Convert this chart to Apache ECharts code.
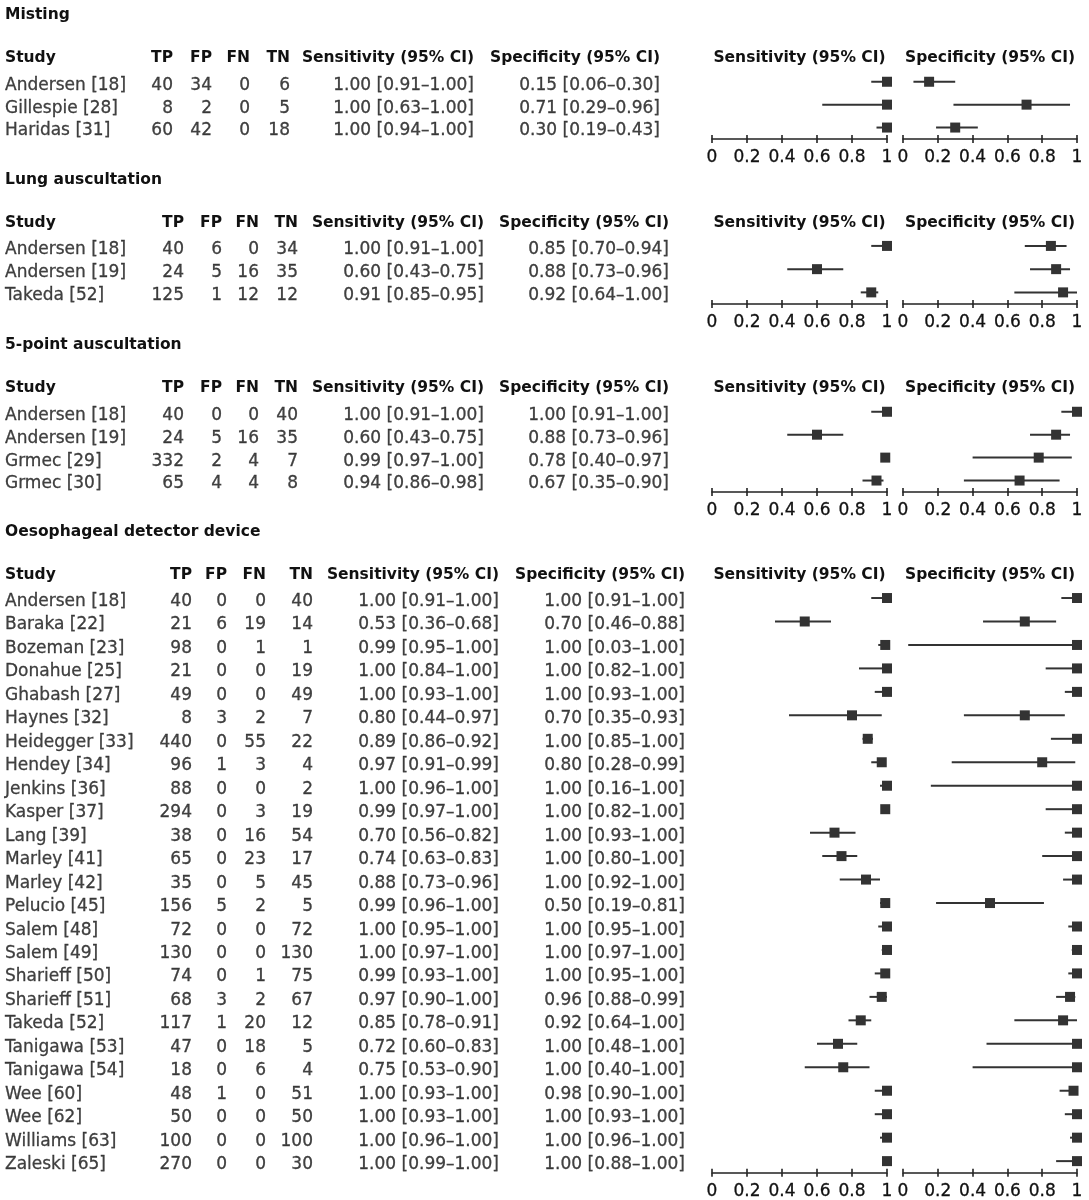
<!DOCTYPE html>
<html>
<head>
<meta charset="utf-8">
<title>Forest plot</title>
<script src="https://cdn.jsdelivr.net/npm/echarts@6/dist/echarts.min.js"></script>
<style>
  html, body { margin: 0; padding: 0; background: #fff; }
  #chart { width: 1089px; height: 1200px; }
</style>
</head>
<body>
<div id="chart"></div>
<script>
(function () {

  var sectionTitles = ['Misting', 'Lung auscultation', '5-point auscultation', 'Oesophageal detector device'];
  var colHeads = ['Study', 'TP', 'FP', 'FN', 'TN', 'Sensitivity (95% CI)', 'Specificity (95% CI)'];
  var axisTicks = [0, 0.2, 0.4, 0.6, 0.8, 1];

  // Misting
  var mistingStudies = ['Andersen [18]', 'Gillespie [28]', 'Haridas [31]'];
  var mistingCounts = [[40, 34, 0, 6], [8, 2, 0, 5], [60, 42, 0, 18]];   // TP FP FN TN
  var mistingSens = [[1.00, 0.91, 1.00], [1.00, 0.63, 1.00], [1.00, 0.94, 1.00]];   // est lo hi
  var mistingSpec = [[0.15, 0.06, 0.30], [0.71, 0.29, 0.96], [0.30, 0.19, 0.43]];

  // Lung auscultation
  var lungStudies = ['Andersen [18]', 'Andersen [19]', 'Takeda [52]'];
  var lungCounts = [[40, 6, 0, 34], [24, 5, 16, 35], [125, 1, 12, 12]];
  var lungSens = [[1.00, 0.91, 1.00], [0.60, 0.43, 0.75], [0.91, 0.85, 0.95]];
  var lungSpec = [[0.85, 0.70, 0.94], [0.88, 0.73, 0.96], [0.92, 0.64, 1.00]];

  // 5-point auscultation
  var fiveStudies = ['Andersen [18]', 'Andersen [19]', 'Grmec [29]', 'Grmec [30]'];
  var fiveCounts = [[40, 0, 0, 40], [24, 5, 16, 35], [332, 2, 4, 7], [65, 4, 4, 8]];
  var fiveSens = [[1.00, 0.91, 1.00], [0.60, 0.43, 0.75], [0.99, 0.97, 1.00], [0.94, 0.86, 0.98]];
  var fiveSpec = [[1.00, 0.91, 1.00], [0.88, 0.73, 0.96], [0.78, 0.40, 0.97], [0.67, 0.35, 0.90]];

  // Oesophageal detector device
  var oddStudies = ['Andersen [18]', 'Baraka [22]', 'Bozeman [23]', 'Donahue [25]', 'Ghabash [27]',
    'Haynes [32]', 'Heidegger [33]', 'Hendey [34]', 'Jenkins [36]', 'Kasper [37]', 'Lang [39]',
    'Marley [41]', 'Marley [42]', 'Pelucio [45]', 'Salem [48]', 'Salem [49]', 'Sharieff [50]',
    'Sharieff [51]', 'Takeda [52]', 'Tanigawa [53]', 'Tanigawa [54]', 'Wee [60]', 'Wee [62]',
    'Williams [63]', 'Zaleski [65]'];
  var oddCounts = [[40, 0, 0, 40], [21, 6, 19, 14], [98, 0, 1, 1], [21, 0, 0, 19], [49, 0, 0, 49],
    [8, 3, 2, 7], [440, 0, 55, 22], [96, 1, 3, 4], [88, 0, 0, 2], [294, 0, 3, 19], [38, 0, 16, 54],
    [65, 0, 23, 17], [35, 0, 5, 45], [156, 5, 2, 5], [72, 0, 0, 72], [130, 0, 0, 130], [74, 0, 1, 75],
    [68, 3, 2, 67], [117, 1, 20, 12], [47, 0, 18, 5], [18, 0, 6, 4], [48, 1, 0, 51], [50, 0, 0, 50],
    [100, 0, 0, 100], [270, 0, 0, 30]];
  var oddSens = [[1.00, 0.91, 1.00], [0.53, 0.36, 0.68], [0.99, 0.95, 1.00], [1.00, 0.84, 1.00],
    [1.00, 0.93, 1.00], [0.80, 0.44, 0.97], [0.89, 0.86, 0.92], [0.97, 0.91, 0.99], [1.00, 0.96, 1.00],
    [0.99, 0.97, 1.00], [0.70, 0.56, 0.82], [0.74, 0.63, 0.83], [0.88, 0.73, 0.96], [0.99, 0.96, 1.00],
    [1.00, 0.95, 1.00], [1.00, 0.97, 1.00], [0.99, 0.93, 1.00], [0.97, 0.90, 1.00], [0.85, 0.78, 0.91],
    [0.72, 0.60, 0.83], [0.75, 0.53, 0.90], [1.00, 0.93, 1.00], [1.00, 0.93, 1.00], [1.00, 0.96, 1.00],
    [1.00, 0.99, 1.00]];
  var oddSpec = [[1.00, 0.91, 1.00], [0.70, 0.46, 0.88], [1.00, 0.03, 1.00], [1.00, 0.82, 1.00],
    [1.00, 0.93, 1.00], [0.70, 0.35, 0.93], [1.00, 0.85, 1.00], [0.80, 0.28, 0.99], [1.00, 0.16, 1.00],
    [1.00, 0.82, 1.00], [1.00, 0.93, 1.00], [1.00, 0.80, 1.00], [1.00, 0.92, 1.00], [0.50, 0.19, 0.81],
    [1.00, 0.95, 1.00], [1.00, 0.97, 1.00], [1.00, 0.95, 1.00], [0.96, 0.88, 0.99], [0.92, 0.64, 1.00],
    [1.00, 0.48, 1.00], [1.00, 0.40, 1.00], [0.98, 0.90, 1.00], [1.00, 0.93, 1.00], [1.00, 0.96, 1.00],
    [1.00, 0.88, 1.00]];

  var sections = [
    { studies: mistingStudies, counts: mistingCounts, sens: mistingSens, spec: mistingSpec },
    { studies: lungStudies, counts: lungCounts, sens: lungSens, spec: lungSpec },
    { studies: fiveStudies, counts: fiveCounts, sens: fiveSens, spec: fiveSpec },
    { studies: oddStudies, counts: oddCounts, sens: oddSens, spec: oddSpec }
  ];

  // page layout (px): header row, first plot row, axis line, right edges of table columns
  var layout = [
    { header: 58, first: 82, axis: 139, cols: [173, 212, 250, 290, 474, 660] },
    { header: 223, first: 246, axis: 304, cols: [184, 222, 259, 298, 484, 669] },
    { header: 388, first: 412, axis: 492, cols: [184, 222, 259, 298, 484, 669] },
    { header: 575, first: 598, axis: 1173, cols: [192, 227, 266, 313, 499, 685] }
  ];
  var plotLeft = [712, 903];
  var plotWidth = [175, 174];
  var halfRow = 11.7;
  var textShift = 3.5;
  var font = '"DejaVu Sans", sans-serif';
  var ink = '#111111';
  var markInk = '#333333';
  var bodySize = 17;

  function ci(v) {
    return v[0].toFixed(2) + ' [' + v[1].toFixed(2) + '\u2013' + v[2].toFixed(2) + ']';
  }

  function forestItem(params, api) {
    var p = api.coord([api.value(0), api.value(3)]);
    var lo = api.coord([api.value(1), api.value(3)]);
    var hi = api.coord([api.value(2), api.value(3)]);
    return {
      type: 'group',
      children: [
        { type: 'line', shape: { x1: lo[0], y1: lo[1], x2: hi[0], y2: hi[1] },
          style: { stroke: markInk, lineWidth: 2 } },
        { type: 'rect', shape: { x: p[0] - 5, y: p[1] - 5, width: 10, height: 10 },
          style: { fill: markInk } }
      ]
    };
  }

  var grid = [], xAxis = [], yAxis = [], series = [], graphic = [];

  sections.forEach(function (sec, s) {
    var L = layout[s];
    var top = L.first - halfRow;
    var h = L.axis - top;
    var rows = sec.studies.map(function (n, i) { return i; });

    // section title + column headers
    graphic.push({
      type: 'text', x: 5, y: L.header - 43,
      style: { text: sectionTitles[s], font: 'bold 15.5px ' + font, fill: ink,
        textAlign: 'left', textVerticalAlign: 'middle', align: 'left', verticalAlign: 'middle' }
    });
    colHeads.forEach(function (t, c) {
      var x = c === 0 ? 5 : L.cols[c - 1];
      var a = c === 0 ? 'left' : 'right';
      graphic.push({
        type: 'text', x: x, y: L.header,
        style: { text: t, font: 'bold 15.5px ' + font, fill: ink,
          textAlign: a, textVerticalAlign: 'middle', align: a, verticalAlign: 'middle' }
      });
    });
    [5, 6].forEach(function (c, k) {
      graphic.push({
        type: 'text', x: plotLeft[k] + plotWidth[k] / 2, y: L.header,
        style: { text: colHeads[c], font: 'bold 15.5px ' + font, fill: ink,
          textAlign: 'center', textVerticalAlign: 'middle', align: 'center', verticalAlign: 'middle' }
      });
    });

    // table grid: x in page pixels, y = study rows
    var tg = grid.length;
    grid.push({ left: 0, width: 1089, top: top + textShift, height: h });
    xAxis.push({ gridIndex: tg, type: 'value', min: 0, max: 1089, show: false });
    yAxis.push({ gridIndex: tg, type: 'category', data: rows, inverse: true, show: false });
    var tx = xAxis.length - 1, ty = yAxis.length - 1;

    var cellText = [
      function (i) { return sec.studies[i]; },
      function (i) { return String(sec.counts[i][0]); },
      function (i) { return String(sec.counts[i][1]); },
      function (i) { return String(sec.counts[i][2]); },
      function (i) { return String(sec.counts[i][3]); },
      function (i) { return ci(sec.sens[i]); },
      function (i) { return ci(sec.spec[i]); }
    ];
    cellText.forEach(function (fn, c) {
      var x = c === 0 ? 5 : L.cols[c - 1];
      series.push({
        type: 'scatter', xAxisIndex: tx, yAxisIndex: ty, symbolSize: 0, silent: true,
        data: rows.map(function (i) { return [x, i]; }),
        label: {
          show: true, position: c === 0 ? 'right' : 'left', distance: 0,
          formatter: function (p) { return fn(p.dataIndex); },
          color: ink, fontSize: bodySize, fontFamily: font,
          textBorderColor: ink, textBorderWidth: 0.3
        }
      });
    });

    // sensitivity & specificity forest panels
    [sec.sens, sec.spec].forEach(function (vals, k) {
      var g = grid.length;
      grid.push({ left: plotLeft[k], width: plotWidth[k], top: top, height: h });
      var base = {
        gridIndex: g, type: 'value', position: 'bottom',
        min: axisTicks[0], max: axisTicks[axisTicks.length - 1], interval: axisTicks[1] - axisTicks[0],
        splitLine: { show: false }
      };
      xAxis.push(Object.assign({}, base, {
        axisLine: { show: true, lineStyle: { color: '#222', width: 1.6 } },
        axisTick: { show: true, length: 4, lineStyle: { color: '#222', width: 1.6 } },
        axisLabel: { color: ink, fontSize: bodySize, fontFamily: font, margin: 10,
          textBorderColor: ink, textBorderWidth: 0.3,
          formatter: function (v) { return String(+v.toFixed(1)); } }
      }));
      var ax = xAxis.length - 1;
      xAxis.push(Object.assign({}, base, {
        axisLine: { show: false },
        axisTick: { show: true, inside: true, length: 4, lineStyle: { color: '#222', width: 1.6 } },
        axisLabel: { show: false }
      }));
      yAxis.push({ gridIndex: g, type: 'category', data: rows, inverse: true, show: false });
      var ay = yAxis.length - 1;
      series.push({
        type: 'custom', xAxisIndex: ax, yAxisIndex: ay, silent: true, clip: false,
        renderItem: forestItem,
        encode: { x: [0, 1, 2], y: 3 },
        data: vals.map(function (v, i) { return [v[0], v[1], v[2], i]; })
      });
    });
  });

  var chart = echarts.init(document.getElementById('chart'), null, { renderer: 'canvas' });
  chart.setOption({
    backgroundColor: '#ffffff',
    animation: false,
    grid: grid,
    xAxis: xAxis,
    yAxis: yAxis,
    graphic: graphic,
    series: series
  });
}());
</script>
</body>
</html>
